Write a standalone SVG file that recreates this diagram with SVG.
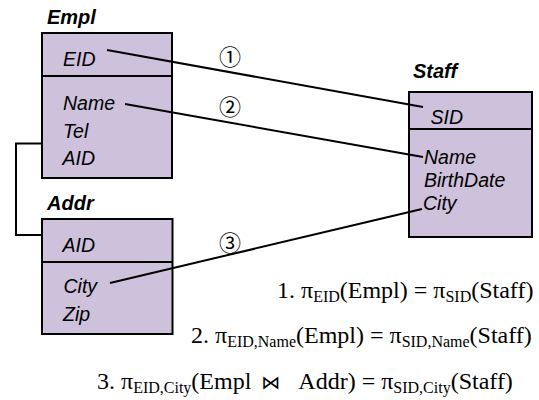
<svg xmlns="http://www.w3.org/2000/svg" width="539" height="400" viewBox="0 0 539 400">
  <style>
    .box { fill: #CDC1DB; stroke: #000; stroke-width: 2; }
    .div { stroke: #000; stroke-width: 2; }
    .title { font-family: "Liberation Sans", Arial, sans-serif; font-size: 20px; font-weight: bold; font-style: italic; fill: #000; }
    .fld { font-family: "Liberation Sans", Arial, sans-serif; font-size: 19.5px; font-style: italic; fill: #000; }
    .conn { fill: none; stroke: #000; stroke-width: 2; }
    .num { font-family: "Noto Sans CJK JP", "DejaVu Sans", sans-serif; font-size: 22px; fill: #000; text-anchor: middle; }
    .eq { font-family: "Liberation Serif", "DejaVu Serif", serif; font-size: 24px; fill: #000; }
    .sub { font-size: 16px; }
    .join { font-family: "DejaVu Sans", sans-serif; font-size: 19px; }
  </style>

  <!-- Empl relation -->
  <g id="empl">
    <text class="title" x="47" y="24">Empl</text>
    <rect class="box" x="42" y="33" width="130" height="145"/>
    <line class="div" x1="42" y1="76" x2="172" y2="76"/>
    <text class="fld" x="63" y="66">EID</text>
    <text class="fld" x="63" y="110">Name</text>
    <text class="fld" x="63" y="137.5">Tel</text>
    <text class="fld" x="62.5" y="165">AID</text>
  </g>

  <!-- Addr relation -->
  <g id="addr">
    <text class="title" x="47" y="210">Addr</text>
    <rect class="box" x="42" y="219" width="130.5" height="115"/>
    <line class="div" x1="42" y1="262" x2="172.5" y2="262"/>
    <text class="fld" x="62.5" y="252">AID</text>
    <text class="fld" x="63.5" y="293">City</text>
    <text class="fld" x="63" y="321">Zip</text>
  </g>

  <!-- Staff relation -->
  <g id="staff">
    <text class="title" x="413" y="78">Staff</text>
    <rect class="box" x="409" y="92" width="123" height="145"/>
    <line class="div" x1="409" y1="129" x2="532" y2="129"/>
    <text class="fld" x="430.5" y="123.5">SID</text>
    <text class="fld" x="424" y="163.5">Name</text>
    <text class="fld" x="424" y="187">BirthDate</text>
    <text class="fld" x="423" y="210">City</text>
  </g>

  <!-- attribute correspondences -->
  <g id="connectors">
    <path class="conn" d="M42,143.5 H16 V235 H42"/>
    <line class="conn" x1="107" y1="50" x2="423" y2="107"/>
    <line class="conn" x1="125" y1="104" x2="423" y2="157"/>
    <line class="conn" x1="110" y1="283" x2="422" y2="209"/>
    <text class="num" x="230" y="65">①</text>
    <text class="num" x="230" y="114.5">②</text>
    <text class="num" x="230" y="251">③</text>
  </g>

  <!-- inclusion dependencies -->
  <g id="formulas">
    <text class="eq" x="277" y="298">1. π<tspan class="sub" dy="4">EID</tspan><tspan dy="-4">(Empl) = π</tspan><tspan class="sub" dy="4">SID</tspan><tspan dy="-4">(Staff)</tspan></text>
    <text class="eq" x="191" y="343">2. π<tspan class="sub" dy="4">EID,Name</tspan><tspan dy="-4">(Empl) = π</tspan><tspan class="sub" dy="4">SID,Name</tspan><tspan dy="-4">(Staff)</tspan></text>
    <text class="eq" x="97" y="389">3. π<tspan class="sub" dy="4">EID,City</tspan><tspan dy="-4">(Empl</tspan><tspan class="join" dx="10">⋈</tspan><tspan dx="18">Addr) = π</tspan><tspan class="sub" dy="4">SID,City</tspan><tspan dy="-4">(Staff)</tspan></text>
  </g>
</svg>
